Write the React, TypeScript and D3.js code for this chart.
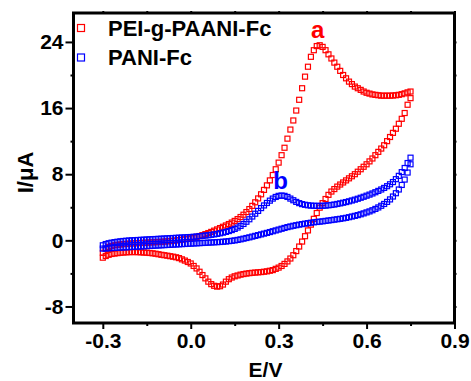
import React, { useRef, useEffect } from 'react';
import * as d3 from 'd3';

// Potential grid (V)
const E = [
  -0.30, -0.29, -0.28, -0.27, -0.26, -0.25, -0.24, -0.23, -0.22, -0.21,
  -0.20, -0.19, -0.18, -0.17, -0.16, -0.15, -0.14, -0.13, -0.12, -0.11,
  -0.10, -0.09, -0.08, -0.07, -0.06, -0.05, -0.04, -0.03, -0.02, -0.01,
  0.00, 0.01, 0.02, 0.03, 0.04, 0.05, 0.06, 0.07, 0.08, 0.09,
  0.10, 0.11, 0.12, 0.13, 0.14, 0.15, 0.16, 0.17, 0.18, 0.19,
  0.20, 0.21, 0.22, 0.23, 0.24, 0.25, 0.26, 0.27, 0.28, 0.29,
  0.30, 0.31, 0.32, 0.33, 0.34, 0.35, 0.36, 0.37, 0.38, 0.39,
  0.40, 0.41, 0.42, 0.43, 0.44, 0.45, 0.46, 0.47, 0.48, 0.49,
  0.50, 0.51, 0.52, 0.53, 0.54, 0.55, 0.56, 0.57, 0.58, 0.59,
  0.60, 0.61, 0.62, 0.63, 0.64, 0.65, 0.66, 0.67, 0.68, 0.69,
  0.70, 0.71, 0.72, 0.73, 0.74, 0.75,
];

// PEI-g-PAANI-Fc, anodic (forward) branch, µA
const RED_FWD = [
  -1.5, -1.05, -0.8, -0.68, -0.6, -0.54, -0.5, -0.46, -0.43, -0.4,
  -0.38, -0.36, -0.34, -0.32, -0.3, -0.28, -0.26, -0.24, -0.22, -0.2,
  -0.18, -0.15, -0.12, -0.09, -0.05, -0.01, 0.03, 0.08, 0.13, 0.19,
  0.25, 0.33, 0.42, 0.52, 0.63, 0.75, 0.88, 1.02, 1.17, 1.32,
  1.48, 1.64, 1.8, 1.97, 2.15, 2.35, 2.57, 2.82, 3.1, 3.42,
  3.78, 4.17, 4.6, 5.07, 5.57, 6.1, 6.65, 7.25, 7.9, 8.6,
  9.4, 10.3, 11.2, 12.3, 13.4, 14.5, 15.7, 17.0, 18.4, 19.8,
  21.0, 22.2, 23.0, 23.5, 23.6, 23.4, 23.0, 22.5, 22.0, 21.5,
  21.0, 20.5, 20.0, 19.6, 19.2, 18.9, 18.6, 18.4, 18.2, 18.0,
  17.85, 17.75, 17.65, 17.6, 17.55, 17.5, 17.5, 17.5, 17.5, 17.52,
  17.55, 17.6, 17.68, 17.78, 17.9, 18.0,
];

// PEI-g-PAANI-Fc, cathodic (reverse) branch, µA
const RED_REV = [
  -2.1, -1.9, -1.75, -1.65, -1.6, -1.55, -1.5, -1.48, -1.45, -1.43,
  -1.42, -1.42, -1.43, -1.45, -1.48, -1.5, -1.53, -1.57, -1.62, -1.68,
  -1.75, -1.8, -1.86, -1.92, -1.98, -2.05, -2.15, -2.3, -2.45, -2.62,
  -2.8, -3.1, -3.4, -3.8, -4.2, -4.6, -5.0, -5.3, -5.5, -5.6,
  -5.55, -5.35, -5.0, -4.7, -4.5, -4.35, -4.25, -4.15, -4.08, -4.02,
  -3.97, -3.93, -3.9, -3.87, -3.84, -3.8, -3.75, -3.68, -3.6, -3.45,
  -3.3, -3.1, -2.85, -2.55, -2.2, -1.8, -1.3, -0.75, -0.15, 0.5,
  1.2, 1.9, 2.6, 3.3, 3.95, 4.5, 5.0, 5.5, 5.9, 6.2,
  6.5, 6.75, 7.0, 7.25, 7.5, 7.75, 8.0, 8.3, 8.6, 8.9,
  9.2, 9.55, 9.9, 10.3, 10.7, 11.1, 11.5, 12.0, 12.5, 13.0,
  13.5, 14.1, 14.7, 15.4, 16.4, 17.2,
];

// PANI-Fc, anodic (forward) branch, µA
const BLUE_FWD = [
  -0.6, -0.45, -0.35, -0.28, -0.22, -0.17, -0.12, -0.08, -0.05, -0.02,
  0.0, 0.02, 0.04, 0.06, 0.08, 0.1, 0.12, 0.14, 0.16, 0.18,
  0.2, 0.22, 0.24, 0.26, 0.28, 0.3, 0.32, 0.34, 0.36, 0.38,
  0.4, 0.43, 0.46, 0.5, 0.54, 0.58, 0.62, 0.67, 0.72, 0.78,
  0.85, 0.93, 1.02, 1.12, 1.24, 1.38, 1.55, 1.75, 1.98, 2.25,
  2.55, 2.88, 3.22, 3.56, 3.9, 4.22, 4.52, 4.8, 5.05, 5.25,
  5.38, 5.42, 5.38, 5.25, 5.05, 4.85, 4.65, 4.5, 4.38, 4.3,
  4.24, 4.2, 4.18, 4.17, 4.17, 4.18, 4.2, 4.24, 4.28, 4.33,
  4.4, 4.47, 4.55, 4.63, 4.72, 4.82, 4.92, 5.03, 5.15, 5.27,
  5.4, 5.53, 5.67, 5.82, 5.98, 6.15, 6.34, 6.55, 6.78, 7.05,
  7.4, 7.8, 8.25, 8.75, 9.35, 10.0,
];

// PANI-Fc, cathodic (reverse) branch, µA
const BLUE_REV = [
  -1.0, -0.98, -0.96, -0.94, -0.92, -0.9, -0.88, -0.86, -0.84, -0.82,
  -0.8, -0.78, -0.76, -0.74, -0.72, -0.7, -0.68, -0.66, -0.64, -0.62,
  -0.6, -0.58, -0.56, -0.54, -0.52, -0.5, -0.48, -0.46, -0.44, -0.42,
  -0.4, -0.38, -0.36, -0.34, -0.32, -0.3, -0.28, -0.26, -0.24, -0.22,
  -0.2, -0.17, -0.14, -0.1, -0.06, -0.01, 0.05, 0.12, 0.2, 0.28,
  0.36, 0.45, 0.54, 0.63, 0.72, 0.81, 0.9, 1.0, 1.1, 1.2,
  1.3, 1.4, 1.5, 1.6, 1.68, 1.76, 1.83, 1.9, 1.96, 2.02,
  2.08, 2.13, 2.18, 2.22, 2.26, 2.3, 2.35, 2.4, 2.45, 2.5,
  2.55, 2.6, 2.66, 2.72, 2.8, 2.88, 2.96, 3.05, 3.15, 3.26,
  3.38, 3.5, 3.64, 3.8, 3.98, 4.18, 4.4, 4.65, 4.95, 5.3,
  5.7, 6.15, 6.7, 7.35, 8.2, 9.2,
];

const SERIES_NAMES = ['PEI-g-PAANI-Fc', 'PANI-Fc'];
const SERIES_COLORS = ['#ff0000', '#0000ff'];
const PEAK_LABELS = ['a', 'b'];
const PEAK_E = [0.433, 0.307];
const PEAK_I = [23.6, 5.42];

const X_TICKS = [-0.3, 0.0, 0.3, 0.6, 0.9];
const X_MINOR = [-0.15, 0.15, 0.45, 0.75];
const Y_TICKS = [-8, 0, 8, 16, 24];
const Y_MINOR = [-4, 4, 12, 20];

const FONT = '"Liberation Sans", Arial, Helvetica, sans-serif';

export default function App() {
  const ref = useRef<SVGSVGElement>(null);

  useEffect(() => {
    const svg = d3.select(ref.current);
    svg.selectAll('*').remove();

    const left = 73.5, right = 454.5, top = 13, bottom = 323;
    const x = d3.scaleLinear().domain([-0.4, 0.9]).range([left, right]);
    const y = d3.scaleLinear().domain([-10, 27.5]).range([bottom, top]);

    const series = [
      { name: SERIES_NAMES[0], color: SERIES_COLORS[0], branches: [RED_FWD, RED_REV] },
      { name: SERIES_NAMES[1], color: SERIES_COLORS[1], branches: [BLUE_FWD, BLUE_REV] },
    ];

    const sz = 5;
    const plot = svg.append('g');
    series.forEach((s) => {
      s.branches.forEach((br) => {
        const pts = E.map((e, i) => [e, br[i]] as [number, number]);
        plot
          .append('g')
          .selectAll('rect')
          .data(pts)
          .join('rect')
          .attr('x', (d) => x(d[0]) - sz / 2)
          .attr('y', (d) => y(d[1]) - sz / 2)
          .attr('width', sz)
          .attr('height', sz)
          .attr('fill', 'none')
          .attr('stroke', s.color)
          .attr('stroke-width', 1.2);
      });
    });

    // Peak labels
    PEAK_LABELS.forEach((lab, i) => {
      svg
        .append('text')
        .attr('x', x(PEAK_E[i]))
        .attr('y', y(PEAK_I[i]) - 7)
        .attr('text-anchor', 'middle')
        .attr('font-family', FONT)
        .attr('font-weight', 'bold')
        .attr('font-size', 24)
        .attr('fill', SERIES_COLORS[i])
        .text(lab);
    });

    const fmtX = (d: any) => (+d).toFixed(1);
    const fmtY = (d: any) => String(+d);

    // Bottom axis
    const gx = svg.append('g').attr('transform', `translate(0,${bottom})`);
    gx.call(d3.axisBottom(x).tickValues(X_TICKS).tickSize(6).tickFormat(fmtX as any));
    const gxm = svg.append('g').attr('transform', `translate(0,${bottom})`);
    gxm.call(d3.axisBottom(x).tickValues(X_MINOR).tickSize(3).tickFormat(() => ''));
    // Left axis
    const gy = svg.append('g').attr('transform', `translate(${left},0)`);
    gy.call(d3.axisLeft(y).tickValues(Y_TICKS).tickSize(8).tickPadding(2).tickFormat(fmtY as any));
    const gym = svg.append('g').attr('transform', `translate(${left},0)`);
    gym.call(d3.axisLeft(y).tickValues(Y_MINOR).tickSize(3).tickFormat(() => ''));
    // Top & right mirror ticks
    const gt = svg.append('g').attr('transform', `translate(0,${top})`);
    gt.call(d3.axisTop(x).tickValues([...X_TICKS, ...X_MINOR]).tickSize(2).tickFormat(() => ''));
    const gr = svg.append('g').attr('transform', `translate(${right},0)`);
    gr.call(d3.axisRight(y).tickValues([...Y_TICKS, ...Y_MINOR]).tickSize(2).tickFormat(() => ''));

    [gx, gxm, gy, gym, gt, gr].forEach((g) => {
      g.select('.domain').remove();
      g.selectAll('.tick line').attr('stroke', '#000').attr('stroke-width', 2);
      g.selectAll('.tick text')
        .attr('font-family', FONT)
        .attr('font-weight', 'bold')
        .attr('font-size', 21)
        .attr('fill', '#000');
    });
    gx.selectAll('.tick text').attr('y', 24.5).attr('dy', 0);

    // Frame
    svg
      .append('rect')
      .attr('x', left)
      .attr('y', top)
      .attr('width', right - left)
      .attr('height', bottom - top)
      .attr('fill', 'none')
      .attr('stroke', '#000')
      .attr('stroke-width', 3);

    // Axis titles
    svg
      .append('text')
      .attr('x', 265.5)
      .attr('y', 376.5)
      .attr('text-anchor', 'middle')
      .attr('font-family', FONT)
      .attr('font-weight', 'bold')
      .attr('font-size', 21)
      .text('E/V');
    svg
      .append('text')
      .attr('transform', `translate(33,172.5) rotate(-90)`)
      .attr('text-anchor', 'middle')
      .attr('font-family', FONT)
      .attr('font-weight', 'bold')
      .attr('font-size', 22)
      .text('I/μA');

    // Legend
    series.forEach((s, i) => {
      const cy = 28 + i * 29.5;
      svg
        .append('rect')
        .attr('x', 81 - 3.5)
        .attr('y', cy - 3.5)
        .attr('width', 7)
        .attr('height', 7)
        .attr('fill', 'none')
        .attr('stroke', s.color)
        .attr('stroke-width', 1.2);
      svg
        .append('text')
        .attr('x', 108)
        .attr('y', cy + 7.5)
        .attr('font-family', FONT)
        .attr('font-weight', 'bold')
        .attr('font-size', 22)
        .attr('fill', '#000')
        .text(s.name);
    });
  }, []);

  return (
    <svg
      ref={ref}
      width={471}
      height={381}
      style={{ position: 'absolute', left: 0, top: 0, background: '#fff' }}
    />
  );
}
